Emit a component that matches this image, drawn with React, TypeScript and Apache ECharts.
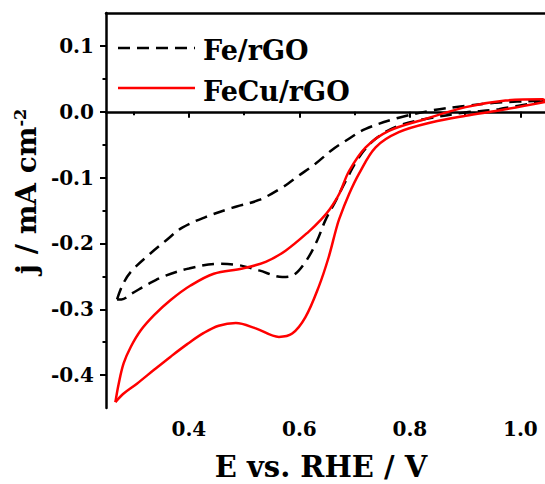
import React, { useEffect, useRef } from "react";
import * as echarts from "echarts";

// Fe/rGO cyclic voltammogram: [E (V vs RHE), j (mA cm-2)]
const feForward: number[][] = [
  [0.270, -0.285], [0.280, -0.263], [0.295, -0.243], [0.328, -0.217],
  [0.358, -0.196], [0.388, -0.176], [0.430, -0.160], [0.478, -0.146],
  [0.527, -0.134], [0.569, -0.115], [0.599, -0.097], [0.629, -0.079],
  [0.659, -0.058], [0.684, -0.044], [0.720, -0.026], [0.780, -0.009],
  [0.840, 0.002], [0.901, 0.009], [0.961, 0.014], [1.046, 0.017],
];
const feReverse: number[][] = [
  [1.046, 0.017], [0.961, 0.004], [0.901, -0.001], [0.828, -0.011],
  [0.780, -0.021], [0.738, -0.041], [0.708, -0.069], [0.684, -0.105],
  [0.666, -0.135], [0.647, -0.165], [0.632, -0.196], [0.611, -0.228],
  [0.587, -0.249], [0.569, -0.251], [0.527, -0.241], [0.490, -0.233],
  [0.454, -0.231], [0.400, -0.238], [0.358, -0.249], [0.328, -0.261],
  [0.297, -0.276], [0.278, -0.285], [0.270, -0.285],
];

// FeCu/rGO cyclic voltammogram
const fecuForward: number[][] = [
  [0.267, -0.441], [0.273, -0.413], [0.282, -0.382], [0.295, -0.357],
  [0.313, -0.332], [0.337, -0.309], [0.367, -0.286], [0.403, -0.264],
  [0.445, -0.246], [0.497, -0.238], [0.539, -0.228], [0.575, -0.211],
  [0.617, -0.182], [0.640, -0.163], [0.655, -0.148], [0.672, -0.125],
  [0.690, -0.090], [0.720, -0.054], [0.762, -0.029], [0.828, -0.011],
  [0.901, 0.007], [0.973, 0.017], [1.040, 0.019], [1.046, 0.015],
];
const fecuReverse: number[][] = [
  [1.046, 0.015], [0.961, 0.002], [0.901, -0.006], [0.840, -0.016],
  [0.780, -0.031], [0.738, -0.054], [0.708, -0.094], [0.690, -0.125],
  [0.672, -0.163], [0.666, -0.180], [0.653, -0.221], [0.635, -0.266],
  [0.611, -0.312], [0.587, -0.337], [0.563, -0.342], [0.521, -0.329],
  [0.485, -0.321], [0.454, -0.325], [0.427, -0.336], [0.397, -0.353],
  [0.367, -0.372], [0.337, -0.392], [0.306, -0.413], [0.282, -0.428],
  [0.267, -0.441],
];

const xMajorTicks = [0.4, 0.6, 0.8, 1.0];
const xMinorTicks = [0.3, 0.5, 0.7, 0.9];
const yMajorTicks = [-0.4, -0.3, -0.2, -0.1, 0.0, 0.1];
const yMinorTicks = [-0.35, -0.25, -0.15, -0.05, 0.05];
const seriesNames = ["Fe/rGO", "FeCu/rGO"];

const FONT = "DejaVu Serif";

export default function App() {
  const ref = useRef<HTMLDivElement>(null);
  useEffect(() => {
    if (!ref.current) return;
    const chart = echarts.init(ref.current, null, { renderer: "svg" });
    const xMin = 0.25, xMax = 1.05, yMin = -0.45, yMax = 0.15;
    const grid = { left: 106, top: 13, width: 442, height: 395, outerBoundsMode: "none", containLabel: false };
    const lineW = 2.5;
    const dash = [12, 7];
    const mkLine = (name: string, data: number[][], color: string, dashed: boolean) => ({
      type: "line",
      name,
      data,
      xAxisIndex: 0,
      yAxisIndex: 0,
      smooth: 0.35,
      symbol: "none",
      showSymbol: false,
      lineStyle: { color, width: lineW, type: dashed ? dash : "solid" },
      itemStyle: { color },
    });
    const legendText = { fontFamily: FONT, fontWeight: "bold", fontSize: 27, fill: "#000" };
    chart.setOption({
      animation: false,
      backgroundColor: "#ffffff",
      grid,
      graphic: [
        {
          type: "line",
          shape: { x1: 118, y1: 48, x2: 195, y2: 48 },
          style: { stroke: "#000", lineWidth: lineW, lineDash: dash },
        },
        {
          type: "text",
          x: 203,
          y: 50.5,
          style: { ...legendText, text: seriesNames[0], verticalAlign: "middle" },
        },
        {
          type: "line",
          shape: { x1: 118, y1: 88, x2: 195, y2: 88 },
          style: { stroke: "#ff0000", lineWidth: lineW },
        },
        {
          type: "text",
          x: 203,
          y: 91,
          style: { ...legendText, text: seriesNames[1], verticalAlign: "middle" },
        },
      ],
      xAxis: [
        {
          type: "value",
          min: xMin,
          max: xMax,
          position: "bottom",
          name: "E vs. RHE / V",
          nameLocation: "middle",
          nameGap: 47,
          nameTextStyle: { fontFamily: FONT, fontWeight: "bold", fontSize: 29, lineHeight: 24, color: "#000", padding: [0, 12, 0, 0] },
          axisLine: { show: true, lineStyle: { color: "#000", width: 2.5 } },
          axisTick: { show: true, customValues: xMajorTicks, length: 6, lineStyle: { color: "#000", width: 2 } },
          axisLabel: {
            customValues: xMajorTicks,
            margin: 11,
            formatter: (v: number) => v.toFixed(1),
            fontFamily: FONT, fontWeight: "bold", fontSize: 20, color: "#000",
          },
          splitLine: { show: false },
        },
        {
          type: "value",
          min: xMin,
          max: xMax,
          position: "bottom",
          axisLine: { show: false },
          axisTick: { show: true, customValues: xMinorTicks, length: 3.5, lineStyle: { color: "#000", width: 2 } },
          axisLabel: { show: false },
          splitLine: { show: false },
        },
        {
          type: "value",
          min: xMin,
          max: xMax,
          position: "top",
          axisLine: { show: true, lineStyle: { color: "#000", width: 2.5 } },
          axisTick: { show: false },
          axisLabel: { show: false },
          splitLine: { show: false },
        },
      ],
      yAxis: [
        {
          type: "value",
          min: yMin,
          max: yMax,
          position: "left",
          name: "j / mA cm{sup|-2}",
          nameLocation: "middle",
          nameGap: 60,
          nameTextStyle: {
            fontFamily: FONT, fontWeight: "bold", fontSize: 28, color: "#000",
            padding: [0, 0, 0, 38],
            rich: {
              sup: { fontFamily: FONT, fontWeight: "bold", fontSize: 16, color: "#000", verticalAlign: "top", padding: [0, 0, 12, 0] },
            },
          },
          axisLine: { show: true, lineStyle: { color: "#000", width: 2.5 } },
          axisTick: { show: true, customValues: yMajorTicks, length: 6, lineStyle: { color: "#000", width: 2 } },
          axisLabel: {
            customValues: yMajorTicks,
            margin: 12,
            formatter: (v: number) => v.toFixed(1),
            fontFamily: FONT, fontWeight: "bold", fontSize: 20, color: "#000",
          },
          splitLine: { show: false },
        },
        {
          type: "value",
          min: yMin,
          max: yMax,
          position: "left",
          axisLine: { show: false },
          axisTick: { show: true, customValues: yMinorTicks, length: 3.5, lineStyle: { color: "#000", width: 2 } },
          axisLabel: { show: false },
          splitLine: { show: false },
        },
      ],
      series: [
        mkLine(seriesNames[0], feForward, "#000000", true),
        mkLine(seriesNames[0], feReverse, "#000000", true),
        mkLine(seriesNames[1], fecuForward, "#ff0000", false),
        mkLine(seriesNames[1], fecuReverse, "#ff0000", false),
      ],
    });
    return () => chart.dispose();
  }, []);
  return (
    <div
      ref={ref}
      style={{ position: "fixed", left: 0, top: 0, width: 545, height: 484, background: "#fff" }}
    />
  );
}
